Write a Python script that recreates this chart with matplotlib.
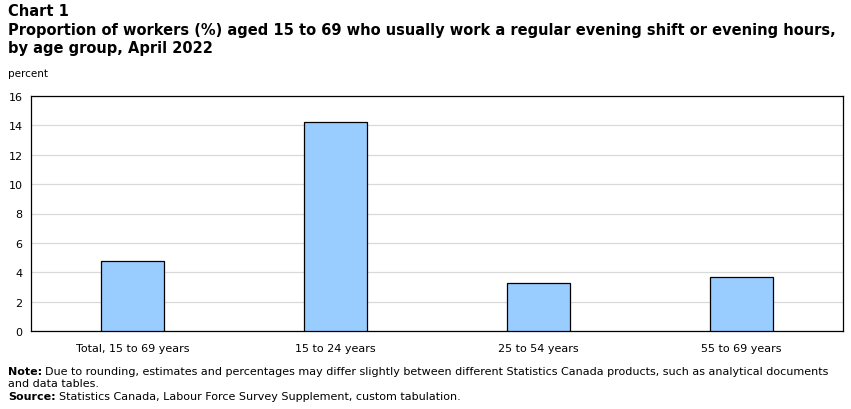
import numpy as np
import matplotlib
matplotlib.use("Agg")
import matplotlib.pyplot as plt

groups = ["Total, 15 to 69 years", "15 to 24 years", "25 to 54 years", "55 to 69 years"]
percent = [4.8, 14.2, 3.3, 3.7]
yticks = [0, 2, 4, 6, 8, 10, 12, 14, 16]

W, H = 851, 410
fig = plt.figure(figsize=(W / 100, H / 100), dpi=100)
ax = fig.add_axes([31 / W, (H - 332) / H, (843 - 31) / W, (332 - 97) / H])

x = np.arange(len(groups))
ax.bar(x, percent, width=0.315, color="#99ccff", edgecolor="black", linewidth=0.9, zorder=3)

ax.set_xlim(-0.5, len(groups) - 0.5)
ax.set_ylim(0, 16)
ax.set_yticks(yticks)
ax.set_xticks(x, labels=groups)
ax.tick_params(axis="both", length=0, labelsize=8)
ax.tick_params(axis="x", pad=9)
ax.tick_params(axis="y", pad=6)
ax.grid(axis="y", color="#d9d9d9", linewidth=0.9, zorder=0)
for s in ax.spines.values():
    s.set_linewidth(0.9)

fig.text(8 / W, 1 - 12 / H, "Chart 1", fontsize=10.5, fontweight="bold", va="center")
fig.text(8 / W, 1 - 31 / H,
         "Proportion of workers (%) aged 15 to 69 who usually work a regular evening shift or evening hours,",
         fontsize=10.5, fontweight="bold", va="center")
fig.text(8 / W, 1 - 49 / H, "by age group, April 2022", fontsize=10.5, fontweight="bold", va="center")
fig.text(8 / W, 1 - 74 / H, "percent", fontsize=7.5, va="center")

# footnotes: bold lead-in followed by regular text
renderer = fig.canvas.get_renderer()


def footnote(y_px, lead, rest, size=8.0):
    t = fig.text(8 / W, 1 - y_px / H, lead, fontsize=size, fontweight="bold", va="center")
    bb = t.get_window_extent(renderer)
    fig.text(bb.x1 / W + 3 / W, 1 - y_px / H, rest, fontsize=size, va="center")


footnote(372, "Note:", "Due to rounding, estimates and percentages may differ slightly between different Statistics Canada products, such as analytical documents")
fig.text(8 / W, 1 - 384 / H, "and data tables.", fontsize=8.0, va="center")
footnote(397, "Source:", "Statistics Canada, Labour Force Survey Supplement, custom tabulation.")

fig.savefig("out.png", dpi=100)
